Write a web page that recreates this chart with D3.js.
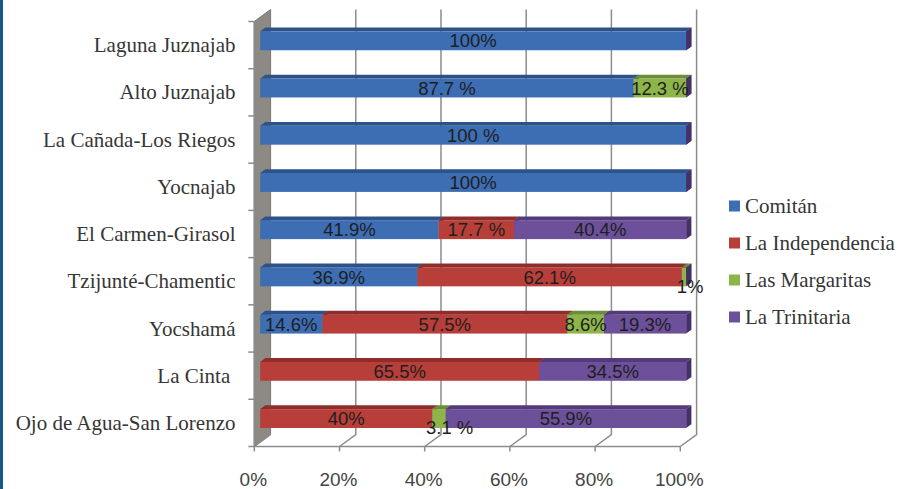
<!DOCTYPE html>
<html>
<head>
<meta charset="utf-8">
<script src="https://cdn.jsdelivr.net/npm/d3@7/dist/d3.min.js"></script>
<style>
  html, body { margin: 0; padding: 0; background: #fff; }
  svg { display: block; }
  text { white-space: pre; }
</style>
</head>
<body>
<svg id="chart" width="913" height="489"></svg>
<script>
// Localities (top to bottom)
const categories = [
  "Laguna Juznajab",
  "Alto Juznajab",
  "La Cañada-Los Riegos",
  "Yocnajab",
  "El Carmen-Girasol",
  "Tzijunté-Chamentic",
  "Yocshamá",
  "La Cinta ",
  "Ojo de Agua-San Lorenzo"
];

const seriesNames = ["Comitán", "La Independencia", "Las Margaritas", "La Trinitaria"];

// Share of each destination municipality, per locality (%)
const comitan       = [100, 87.7, 100, 100, 41.9, 36.9, 14.6, 0, 0];
const independencia = [0, 0, 0, 0, 17.7, 62.1, 57.5, 65.5, 40];
const margaritas    = [0, 12.3, 0, 0, 0, 1, 8.6, 0, 3.1];
const trinitaria    = [0, 0, 0, 0, 40.4, 0, 19.3, 34.5, 55.9];

// Data label texts, as printed on each segment
const labelsComitan       = ["100%", "87.7 %", "100 %", "100%", "41.9%", "36.9%", "14.6%", "", ""];
const labelsIndependencia = ["", "", "", "", "17.7 %", "62.1%", "57.5%", "65.5%", "40%"];
const labelsMargaritas    = ["", "12.3 %", "", "", "", "1%", "8.6%", "", "3.1 %"];
const labelsTrinitaria    = ["", "", "", "", "40.4%", "", "19.3%", "34.5%", "55.9%"];

const xTicks = [0, 0.2, 0.4, 0.6, 0.8, 1];
const xTickLabels = ["0%", "20%", "40%", "60%", "80%", "100%"];

// ---- build rows for the stack ----
const seriesValues = [comitan, independencia, margaritas, trinitaria];
const seriesLabels = [labelsComitan, labelsIndependencia, labelsMargaritas, labelsTrinitaria];
const rows = categories.map((c, i) => {
  const r = { cat: c };
  seriesNames.forEach((s, k) => { r[s] = seriesValues[k][i]; });
  return r;
});
const stacked = d3.stack().keys(seriesNames).offset(d3.stackOffsetExpand)(rows);

// ---- colours (front face, top face, side face) ----
const palette = [
  { face: "#3d6db3", top: "#2c528b", side: "#23467a" },
  { face: "#b83e3a", top: "#8f2d2a", side: "#7a2522" },
  { face: "#8db54a", top: "#6c8c36", side: "#5a762c" },
  { face: "#6d509a", top: "#523b78", side: "#45306a" }
];

// ---- 3D geometry ----
const svg = d3.select("#chart");
const DX = 16.3, DY = -12;          // depth of the plot box
const F0 = 0.36, F1 = 0.68;         // bar depth, as a fraction of the box depth
const x = d3.scaleLinear().domain([0, 1]).range([254.3, 680.3]);
const y = d3.scaleBand().domain(categories).range([21.5, 446.5]);
const barFrac = 0.4;
const yBottom = 446.5, yTop = 21.5;

// left border stripe
svg.append("rect").attr("x", 0).attr("y", 0).attr("width", 3).attr("height", 489).attr("fill", "#135a8b");

// side wall
svg.append("polygon")
  .attr("points", [[x(0), yTop], [x(0) + DX, yTop + DY], [x(0) + DX, yBottom + DY], [x(0), yBottom]].map(p => p.join(",")).join(" "))
  .attr("fill", "#8d8a83").attr("stroke", "#77756f").attr("stroke-width", 1);

// back-wall gridlines and floor edges
const grid = svg.append("g").attr("stroke", "#8c8c8c").attr("stroke-width", 1.5).attr("fill", "none");
xTicks.forEach((t, i) => {
  const xf = x(t);
  grid.append("path").attr("d", `M${xf},${yBottom} L${xf + DX},${yBottom + DY}` + (i > 0 ? ` L${xf + DX},${yTop + DY}` : ""));
});
// category axis (front vertical line) and value axis (front floor line)
grid.append("line").attr("x1", x(0)).attr("x2", x(0)).attr("y1", yTop).attr("y2", yBottom);
grid.append("line").attr("x1", x(0)).attr("x2", x(1)).attr("y1", yBottom).attr("y2", yBottom);
// tick marks
categories.concat([null]).forEach((c, i) => {
  const yy = c === null ? yBottom : y(c);
  grid.append("line").attr("x1", x(0) - 6).attr("x2", x(0)).attr("y1", yy).attr("y2", yy);
});
xTicks.forEach(t => {
  grid.append("line").attr("x1", x(t)).attr("x2", x(t)).attr("y1", yBottom).attr("y2", yBottom + 5);
});

// ---- bars ----
const barsG = svg.append("g");
const ox = DX * F0, oy = DY * F0;
const ddx = DX * (F1 - F0), ddy = DY * (F1 - F0);
const bh = y.bandwidth() * barFrac;

function pts(a) { return a.map(p => p.join(",")).join(" "); }

categories.forEach((c, i) => {
  const yc = y(c) + y.bandwidth() / 2 + oy;
  const y0 = yc - bh / 2, y1 = yc + bh / 2;
  const g = barsG.append("g");
  stacked.forEach((layer, k) => {
    const d = layer[i];
    const xa = x(d[0]) + ox, xb = x(d[1]) + ox;
    const col = palette[k];
    const isLast = k === stacked.length - 1;
    if (xb - xa <= 0 && !isLast) return;
    // front face
    g.append("rect").attr("x", xa).attr("y", y0).attr("width", Math.max(0, xb - xa)).attr("height", bh).attr("fill", col.face);
    // top face
    g.append("polygon").attr("points", pts([[xa, y0], [xa + ddx, y0 + ddy], [xb + ddx, y0 + ddy], [xb, y0]])).attr("fill", col.top);
    // end face
    g.append("polygon").attr("points", pts([[xb, y0], [xb + ddx, y0 + ddy], [xb + ddx, y1 + ddy], [xb, y1]])).attr("fill", col.side);
  });
});

// ---- data labels ----
const labG = svg.append("g")
  .attr("font-family", "'Liberation Sans', Arial, sans-serif")
  .attr("font-size", 18.5).attr("fill", "#1e1e1e").attr("text-anchor", "middle");
categories.forEach((c, i) => {
  const yc = y(c) + y.bandwidth() / 2 + oy;
  stacked.forEach((layer, k) => {
    const txt = seriesLabels[k][i];
    if (!txt) return;
    const d = layer[i];
    const xa = x(d[0]) + ox, xb = x(d[1]) + ox;
    const narrow = (xb - xa) < 22;
    labG.append("text")
      .attr("x", narrow ? xb + 4 : (xa + xb) / 2)
      .attr("y", yc + (narrow ? 9 : 0))
      .attr("dy", "0.36em")
      .text(txt);
  });
});

// ---- category labels ----
svg.append("g")
  .attr("font-family", "'Liberation Serif', 'Times New Roman', serif")
  .attr("font-size", 21).attr("fill", "#363636").attr("text-anchor", "end")
  .selectAll("text").data(categories).join("text")
  .attr("x", 235.5)
  .attr("y", d => y(d) + y.bandwidth() / 2)
  .attr("dy", "0.34em")
  .text(d => d);

// ---- value axis labels ----
svg.append("g")
  .attr("font-family", "'Liberation Sans', Arial, sans-serif")
  .attr("font-size", 19).attr("fill", "#444").attr("text-anchor", "middle")
  .selectAll("text").data(xTicks).join("text")
  .attr("x", d => x(d) - 1)
  .attr("y", 486)
  .text((d, i) => xTickLabels[i]);

// ---- legend ----
const leg = svg.append("g").attr("transform", "translate(729,206)");
seriesNames.forEach((s, k) => {
  const gy = k * 37;
  leg.append("rect").attr("x", 0).attr("y", gy - 5.5).attr("width", 11).attr("height", 11).attr("fill", palette[k].face);
  leg.append("text").attr("x", 16).attr("y", gy).attr("dy", "0.33em")
    .attr("font-family", "'Liberation Serif', 'Times New Roman', serif")
    .attr("font-size", 21).attr("fill", "#363636").text(s);
});
</script>
</body>
</html>
